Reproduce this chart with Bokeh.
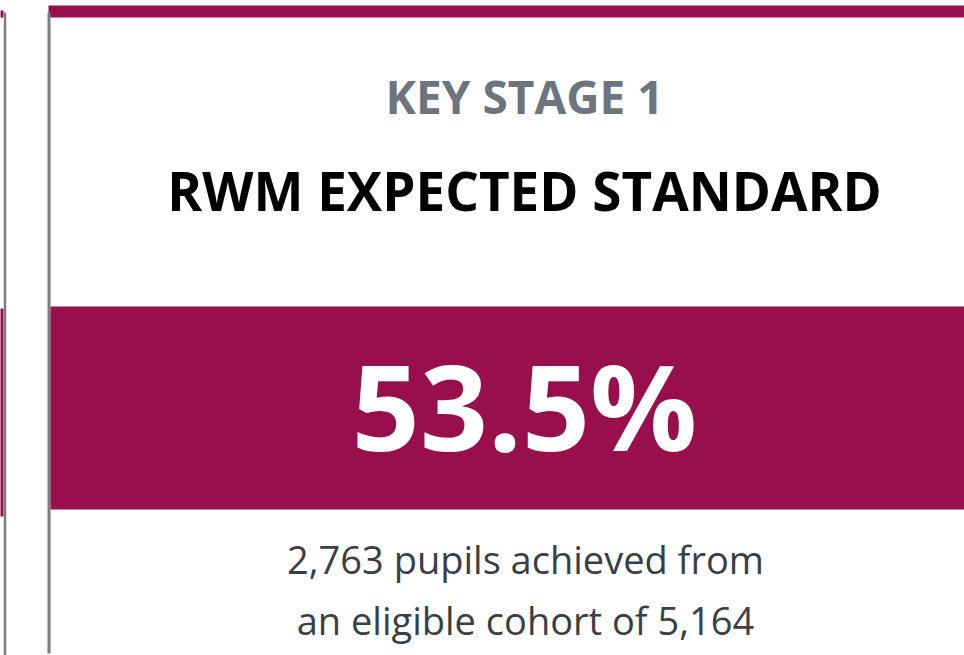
from bokeh.plotting import figure
from bokeh.models import Range1d
from bokeh.core.properties import value
from bokeh.embed import file_html
from bokeh.resources import INLINE

# ---- data ----
stage_label = ["KEY STAGE 1"]
measure_label = ["RWM EXPECTED STANDARD"]
pct_achieved = [53.5]
pupils_achieved = [2763]
eligible_cohort = [5164]

MAROON = "#990e4d"
GREY_TEXT = "#6c757d"
BODY_TEXT = "#3a3f45"
BORDER = "#7d7d7d"

p = figure(width=964, height=655, x_range=Range1d(0, 964), y_range=Range1d(655, 0),
           output_backend="svg", toolbar_location=None, min_border=0)
p.axis.visible = False
p.grid.visible = False
p.outline_line_color = None
p.background_fill_color = "white"
p.border_fill_color = "white"

# partial neighbouring card on the left
p.quad(left=[-40], right=[3], top=[10], bottom=[17], fill_color=MAROON, line_color=None)
p.quad(left=[-40], right=[3], top=[308], bottom=[516], fill_color=MAROON, line_color=None)
p.segment(x0=[4.5], y0=[12], x1=[4.5], y1=[660], line_color=BORDER, line_width=2.5)

# card frame
p.quad(left=[48], right=[1000], top=[5], bottom=[17], fill_color=MAROON, line_color=None)
p.segment(x0=[48.5], y0=[12], x1=[48.5], y1=[653], line_color=BORDER, line_width=3)
# value band
p.quad(left=[50], right=[1000], top=[306], bottom=[509], fill_color=MAROON, line_color=None)

cx = 524
p.text(x=[cx], y=[95], text=stage_label, text_font=value("Open Sans"), text_font_style="bold",
       text_font_size="46px", text_color=GREY_TEXT, text_align="center", text_baseline="alphabetic")
p.text(x=[cx], y=[190], text=measure_label, text_font=value("Open Sans"), text_font_style="bold",
       text_font_size="53px", text_color="#000000", text_align="center", text_baseline="alphabetic")
p.text(x=[cx], y=[404], text=[f"{v}%" for v in pct_achieved], text_font=value("Open Sans"),
       text_font_style="bold", text_font_size="119px", text_color="white",
       text_align="center", text_baseline="alphabetic")
line1 = [f"{a:,} pupils achieved from" for a in pupils_achieved]
line2 = [f"an eligible cohort of {c:,}" for c in eligible_cohort]
p.text(x=[525], y=[558], text=line1, text_font=value("Open Sans"), text_font_size="38px",
       text_color=BODY_TEXT, text_align="center", text_baseline="alphabetic")
p.text(x=[525], y=[619], text=line2, text_font=value("Open Sans"), text_font_size="38px",
       text_color=BODY_TEXT, text_align="center", text_baseline="alphabetic")

open("out.html", "w").write(file_html(p, INLINE))
